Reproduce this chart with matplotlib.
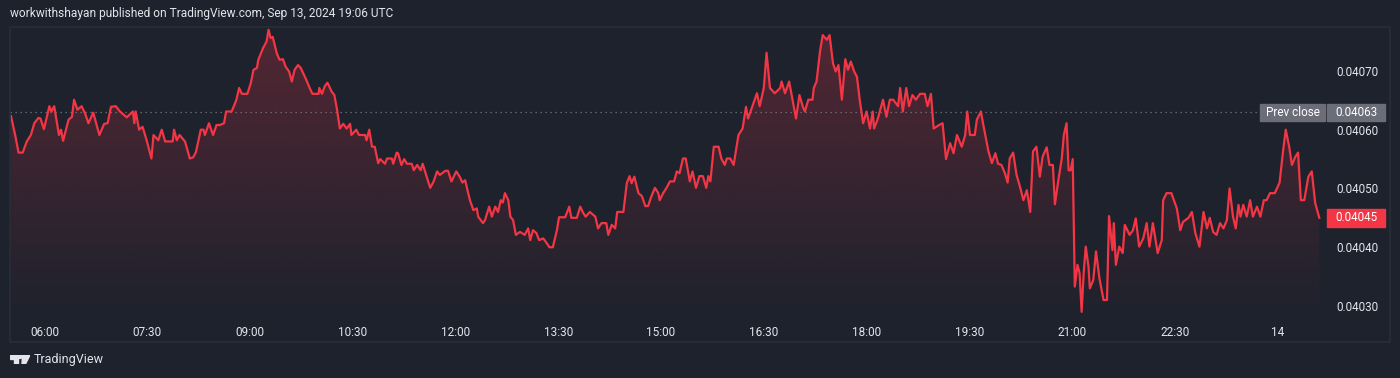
import matplotlib
matplotlib.use('Agg')
import matplotlib.pyplot as plt
import numpy as np
from matplotlib.colors import to_rgb
from matplotlib.patches import Rectangle, Circle, Polygon
from matplotlib.ticker import FixedLocator, FixedFormatter, FormatStrFormatter
from matplotlib.transforms import blended_transform_factory

# hours since 00:00 Sep 13 (24 = midnight, shown as "14")
hours = [
    5.51, 5.57, 5.62, 5.68, 5.74, 5.80, 5.85, 5.91, 5.94, 5.99, 6.07, 6.10, 6.14, 6.21, 6.24, 6.27,
    6.35, 6.40, 6.43, 6.48, 6.54, 6.59, 6.64, 6.71, 6.80, 6.87, 6.92, 6.97, 7.04, 7.10, 7.20, 7.29,
    7.31, 7.33, 7.38, 7.43, 7.49, 7.56, 7.59, 7.66, 7.71, 7.76, 7.87, 7.89, 7.93, 7.97, 8.05, 8.12,
    8.17, 8.21, 8.28, 8.32, 8.34, 8.40, 8.46, 8.51, 8.56, 8.62, 8.65, 8.73, 8.77, 8.80, 8.84, 8.88,
    8.96, 9.01, 9.05, 9.10, 9.12, 9.19, 9.24, 9.27, 9.30, 9.33, 9.39, 9.43, 9.48, 9.52, 9.57, 9.61,
    9.65, 9.70, 9.74, 9.82, 9.87, 9.91, 10.00, 10.01, 10.05, 10.09, 10.13, 10.19, 10.23, 10.27,
    10.31, 10.36, 10.41, 10.46,
    10.48, 10.55, 10.59, 10.68, 10.70, 10.74, 10.78, 10.82, 10.87, 10.90, 10.97, 11.00, 11.07,
    11.09, 11.14, 11.16, 11.21, 11.25, 11.29, 11.36, 11.39, 11.44, 11.49, 11.52, 11.57, 11.63,
    11.68, 11.73, 11.77, 11.85, 11.89, 11.94, 12.01, 12.06, 12.10, 12.14, 12.17, 12.21, 12.26,
    12.31, 12.33, 12.40, 12.43, 12.49, 12.53, 12.58, 12.62, 12.66, 12.69, 12.72, 12.77, 12.80,
    12.84, 12.88, 12.94, 13.01, 13.06, 13.09, 13.13, 13.18, 13.22, 13.28, 13.33, 13.37, 13.42,
    13.48, 13.51, 13.60, 13.66, 13.69, 13.77, 13.82, 13.86, 13.90, 13.96, 14.04, 14.08, 14.13,
    14.20, 14.23, 14.28, 14.33, 14.36, 14.45, 14.50, 14.54, 14.57, 14.61, 14.67, 14.72, 14.77,
    14.81, 14.86, 14.91, 14.96, 14.98,
    15.03, 15.08, 15.13, 15.19, 15.23, 15.27, 15.32, 15.36, 15.42, 15.46, 15.51, 15.56, 15.61,
    15.66, 15.69, 15.72, 15.77, 15.84, 15.88, 15.93, 15.96, 16.01, 16.06, 16.13, 16.19, 16.24,
    16.27, 16.34, 16.40, 16.44, 16.50, 16.54, 16.59, 16.66, 16.74, 16.76, 16.81, 16.87, 16.92,
    16.97, 17.02, 17.07, 17.10, 17.15, 17.21, 17.23, 17.27, 17.32, 17.36, 17.42, 17.46, 17.51,
    17.55, 17.59, 17.64, 17.69, 17.73, 17.77, 17.82, 17.86, 17.90, 17.95, 18.00, 18.05, 18.09,
    18.11, 18.16, 18.24, 18.29, 18.34, 18.39, 18.46, 18.49, 18.53, 18.58, 18.62, 18.67, 18.72,
    18.78, 18.85, 18.89, 18.94, 18.98, 19.06, 19.11, 19.16, 19.22, 19.27, 19.32, 19.39, 19.44,
    19.47, 19.51, 19.58, 19.61, 19.67, 19.70, 19.78,
    19.83, 19.88, 19.92, 19.97, 20.02, 20.06, 20.09, 20.14, 20.19, 20.24, 20.29, 20.34, 20.39,
    20.43, 20.48, 20.53, 20.57, 20.63, 20.67, 20.72, 20.75, 20.80, 20.85, 20.88, 20.92, 20.95,
    20.98, 21.01, 21.04, 21.08, 21.11, 21.14, 21.17, 21.20, 21.24, 21.26, 21.31, 21.35, 21.40,
    21.46, 21.51, 21.54, 21.59, 21.61, 21.64, 21.69, 21.74, 21.77, 21.84, 21.89, 21.93, 21.98,
    22.04, 22.09, 22.13, 22.18, 22.25, 22.31, 22.33, 22.38, 22.45, 22.53, 22.58, 22.62, 22.70,
    22.75, 22.80, 22.86, 22.92, 22.97, 23.01, 23.06, 23.11, 23.16, 23.21, 23.26, 23.30, 23.35,
    23.39, 23.43, 23.46, 23.50, 23.55, 23.60, 23.64, 23.70, 23.75, 23.80, 23.84, 23.89, 23.96,
    24.03, 24.08, 24.12, 24.17, 24.21, 24.26, 24.30, 24.34, 24.39, 24.45, 24.50, 24.55, 24.61,
]

prices = [
    0.040623, 0.040591, 0.040561, 0.040561, 0.040580, 0.040591, 0.040611, 0.040620, 0.040619,
    0.040601, 0.040640, 0.040631, 0.040640, 0.040591, 0.040600, 0.040581, 0.040617, 0.040622,
    0.040651, 0.040634, 0.040640, 0.040628, 0.040611, 0.040629, 0.040591, 0.040610, 0.040611,
    0.040639, 0.040640, 0.040631, 0.040621, 0.040631, 0.040611, 0.040631, 0.040600, 0.040605,
    0.040582, 0.040551, 0.040591, 0.040582, 0.040600, 0.040580, 0.040580, 0.040600, 0.040582,
    0.040591, 0.040580, 0.040551, 0.040553, 0.040562, 0.040600, 0.040600, 0.040591, 0.040611,
    0.040591, 0.040608, 0.040608, 0.040611, 0.040631, 0.040631, 0.040642, 0.040651, 0.040671,
    0.040661, 0.040661, 0.040679, 0.040702, 0.040705, 0.040719, 0.040739, 0.040750, 0.040770,
    0.040756, 0.040758, 0.040730, 0.040719, 0.040720, 0.040707, 0.040699, 0.040682, 0.040702,
    0.040710, 0.040705, 0.040685, 0.040671, 0.040661, 0.040661, 0.040671, 0.040661, 0.040674,
    0.040680, 0.040665, 0.040659, 0.040634, 0.040602, 0.040610, 0.040602, 0.040610,
    0.040591, 0.040600, 0.040591, 0.040591, 0.040582, 0.040600, 0.040571, 0.040571, 0.040543,
    0.040550, 0.040542, 0.040551, 0.040551, 0.040542, 0.040561, 0.040560, 0.040540, 0.040550,
    0.040542, 0.040542, 0.040531, 0.040540, 0.040531, 0.040542, 0.040523, 0.040501, 0.040512,
    0.040529, 0.040523, 0.040530, 0.040530, 0.040512, 0.040529, 0.040520, 0.040510, 0.040514,
    0.040499, 0.040480, 0.040463, 0.040466, 0.040452, 0.040441, 0.040446, 0.040469, 0.040452,
    0.040469, 0.040460, 0.040480, 0.040476, 0.040492, 0.040480, 0.040452, 0.040446, 0.040421,
    0.040426, 0.040421, 0.040432, 0.040412, 0.040429, 0.040424, 0.040412, 0.040415, 0.040407,
    0.040400, 0.040400, 0.040429, 0.040451, 0.040451, 0.040469, 0.040450, 0.040450, 0.040469,
    0.040459, 0.040452, 0.040460, 0.040452, 0.040432, 0.040441, 0.040441, 0.040421, 0.040438,
    0.040432, 0.040460, 0.040460, 0.040509, 0.040521, 0.040509, 0.040520, 0.040492, 0.040487,
    0.040470, 0.040470, 0.040487, 0.040501, 0.040492, 0.040480,
    0.040492, 0.040501, 0.040512, 0.040512, 0.040529, 0.040526, 0.040551, 0.040551, 0.040512,
    0.040529, 0.040501, 0.040521, 0.040521, 0.040501, 0.040521, 0.040512, 0.040571, 0.040571,
    0.040551, 0.040540, 0.040551, 0.040551, 0.040540, 0.040591, 0.040602, 0.040639, 0.040619,
    0.040642, 0.040662, 0.040640, 0.040671, 0.040731, 0.040671, 0.040662, 0.040671, 0.040682,
    0.040662, 0.040682, 0.040651, 0.040619, 0.040659, 0.040639, 0.040631, 0.040651, 0.040651,
    0.040671, 0.040682, 0.040733, 0.040761, 0.040753, 0.040761, 0.040713, 0.040699, 0.040710,
    0.040651, 0.040720, 0.040702, 0.040716, 0.040699, 0.040690, 0.040651, 0.040611, 0.040631,
    0.040602, 0.040631, 0.040602, 0.040617, 0.040651, 0.040622, 0.040651, 0.040651, 0.040640,
    0.040671, 0.040631, 0.040671, 0.040640, 0.040659, 0.040651, 0.040661, 0.040661, 0.040640,
    0.040661, 0.040602, 0.040608, 0.040611, 0.040550, 0.040577, 0.040560, 0.040591, 0.040571,
    0.040591, 0.040631, 0.040591, 0.040591, 0.040617, 0.040631, 0.040611, 0.040563,
    0.040543, 0.040560, 0.040542, 0.040540, 0.040526, 0.040510, 0.040551, 0.040561, 0.040523,
    0.040503, 0.040480, 0.040497, 0.040460, 0.040563, 0.040571, 0.040520, 0.040554, 0.040570,
    0.040540, 0.040540, 0.040473, 0.040514, 0.040551, 0.040591, 0.040611, 0.040531, 0.040531,
    0.040550, 0.040333, 0.040370, 0.040356, 0.040290, 0.040356, 0.040401, 0.040367, 0.040330,
    0.040344, 0.040393, 0.040347, 0.040310, 0.040310, 0.040453, 0.040395, 0.040441, 0.040370,
    0.040401, 0.040390, 0.040438, 0.040421, 0.040429, 0.040449, 0.040401, 0.040415, 0.040441,
    0.040401, 0.040441, 0.040390, 0.040412, 0.040480, 0.040492, 0.040492, 0.040466, 0.040429,
    0.040443, 0.040450, 0.040460, 0.040424, 0.040401, 0.040460, 0.040432, 0.040450, 0.040426,
    0.040421, 0.040441, 0.040432, 0.040446, 0.040500, 0.040452, 0.040432, 0.040472, 0.040452,
    0.040472, 0.040452, 0.040480, 0.040452, 0.040469, 0.040452, 0.040480, 0.040480, 0.040492,
    0.040492, 0.040510, 0.040563, 0.040600, 0.040571, 0.040540, 0.040554, 0.040561, 0.040480,
    0.040480, 0.040520, 0.040529, 0.040475, 0.040450,
]

prev_close = 0.04063
last_price = 0.04045
price_ticks = [0.04030, 0.04040, 0.04050, 0.04060, 0.04070]
time_ticks = [6, 7.5, 9, 10.5, 12, 13.5, 15, 16.5, 18, 19.5, 21, 22.5, 24]
time_labels = ['06:00', '07:30', '09:00', '10:30', '12:00', '13:30', '15:00',
               '16:30', '18:00', '19:30', '21:00', '22:30', '14']
header = 'workwithshayan published on TradingView.com, Sep 13, 2024 19:06 UTC'

BG = '#1e222d'
RED = '#f23645'
GREY = '#6b6e79'
TEXT = '#e3e5eb'
BORDER = '#2a2e39'


def main():
    plt.rcParams['font.family'] = ['Roboto', 'DejaVu Sans']
    W, H = 1400, 378
    fig = plt.figure(figsize=(W / 100, H / 100), dpi=100, facecolor=BG)

    # price pane
    ax = fig.add_axes([10 / W, 60 / H, 1315 / W, 291 / H])
    ax.set_facecolor(BG)
    t = np.array(hours)
    p = np.array(prices)
    y_lo, y_hi = 0.0402795, 0.0407748

    # gradient area under the line
    grad = np.zeros((256, 1, 4))
    grad[..., :3] = to_rgb(RED)
    grad[:, 0, 3] = np.linspace(0.25, 0.0, 256)
    im = ax.imshow(grad, aspect='auto', origin='upper', zorder=1,
                   extent=[t[0], t[-1], y_lo, p.max()])
    area = ax.fill_between(t, p, y_lo, facecolor='none', edgecolor='none')
    im.set_clip_path(area.get_paths()[0], transform=ax.transData)
    ax.plot(t, p, color=RED, lw=1.6, zorder=3)

    ax.set_xlim(5.495, 24.693)
    ax.set_ylim(y_lo, y_hi)

    # prev close line + labels
    ax.axhline(prev_close, xmax=(1258 - 10) / 1315, color='#787b86', lw=0.9,
               ls=(0, (1, 3)), zorder=2)
    tr = blended_transform_factory(ax.transAxes, ax.transData)
    px = 1.7021e-6  # price per pixel
    x0 = (1260 - 10) / 1315
    ax.add_patch(Rectangle((x0, prev_close - 8.5 * px), 1 - x0, 17 * px,
                           transform=tr, color=GREY, clip_on=False, zorder=4))
    ax.text((x0 + 1) / 2, prev_close, 'Prev close', transform=tr, color='white',
            fontsize=8.5, ha='center', va='center', zorder=5)
    bx0 = (1327 - 10) / 1315
    bw = 58 / 1315
    ax.add_patch(Rectangle((bx0, prev_close - 8.5 * px), bw, 17 * px,
                           transform=tr, color=GREY, clip_on=False, zorder=4))
    ax.text(bx0 + bw / 2, prev_close, '%.5f' % prev_close, transform=tr,
            color='white', fontsize=8.4, ha='center', va='center', zorder=5)
    ax.add_patch(Rectangle((bx0, last_price - 9 * px), bw, 18 * px,
                           transform=tr, color=RED, clip_on=False, zorder=4))
    ax.text(bx0 + bw / 2, last_price, '%.5f' % last_price, transform=tr,
            color='white', fontsize=8.4, ha='center', va='center', zorder=5)

    # axes
    ax.yaxis.tick_right()
    ax.yaxis.set_major_locator(FixedLocator(price_ticks))
    ax.yaxis.set_major_formatter(FormatStrFormatter('%.5f'))
    ax.xaxis.set_major_locator(FixedLocator(time_ticks))
    ax.xaxis.set_major_formatter(FixedFormatter(time_labels))
    ax.tick_params(axis='y', length=0, pad=8, labelsize=8.4, labelcolor=TEXT)
    ax.tick_params(axis='x', length=0, pad=6, labelsize=8.5, labelcolor=TEXT)
    for s in ax.spines.values():
        s.set_visible(False)

    # outer frame
    fig.add_artist(Rectangle((10 / W, 36 / H), 1380 / W, 315 / H, transform=fig.transFigure,
                             fill=False, ec=BORDER, lw=1.2))

    # header and footer
    fig.text(10 / W, 1 - 13 / H, header, color=TEXT, fontsize=8.6, va='center')
    logo = fig.add_axes([10 / W, 14 / H, 20 / W, 9 / H])
    logo.set_xlim(0, 20)
    logo.set_ylim(0, 9)
    logo.axis('off')
    logo.add_patch(Rectangle((0, 5.5), 7.5, 3.5, color=TEXT))
    logo.add_patch(Rectangle((4, 0), 3.5, 9, color=TEXT))
    logo.add_patch(Circle((10.3, 7.3), 1.7, color=TEXT))
    logo.add_patch(Polygon([(12.5, 9), (20, 9), (15.5, 0), (12, 0)], color=TEXT))
    fig.text(34 / W, 1 - 360 / H, 'TradingView', color=TEXT, fontsize=9, va='center')

    fig.savefig('out.png', dpi=100, facecolor=BG)


if __name__ == '__main__':
    main()
